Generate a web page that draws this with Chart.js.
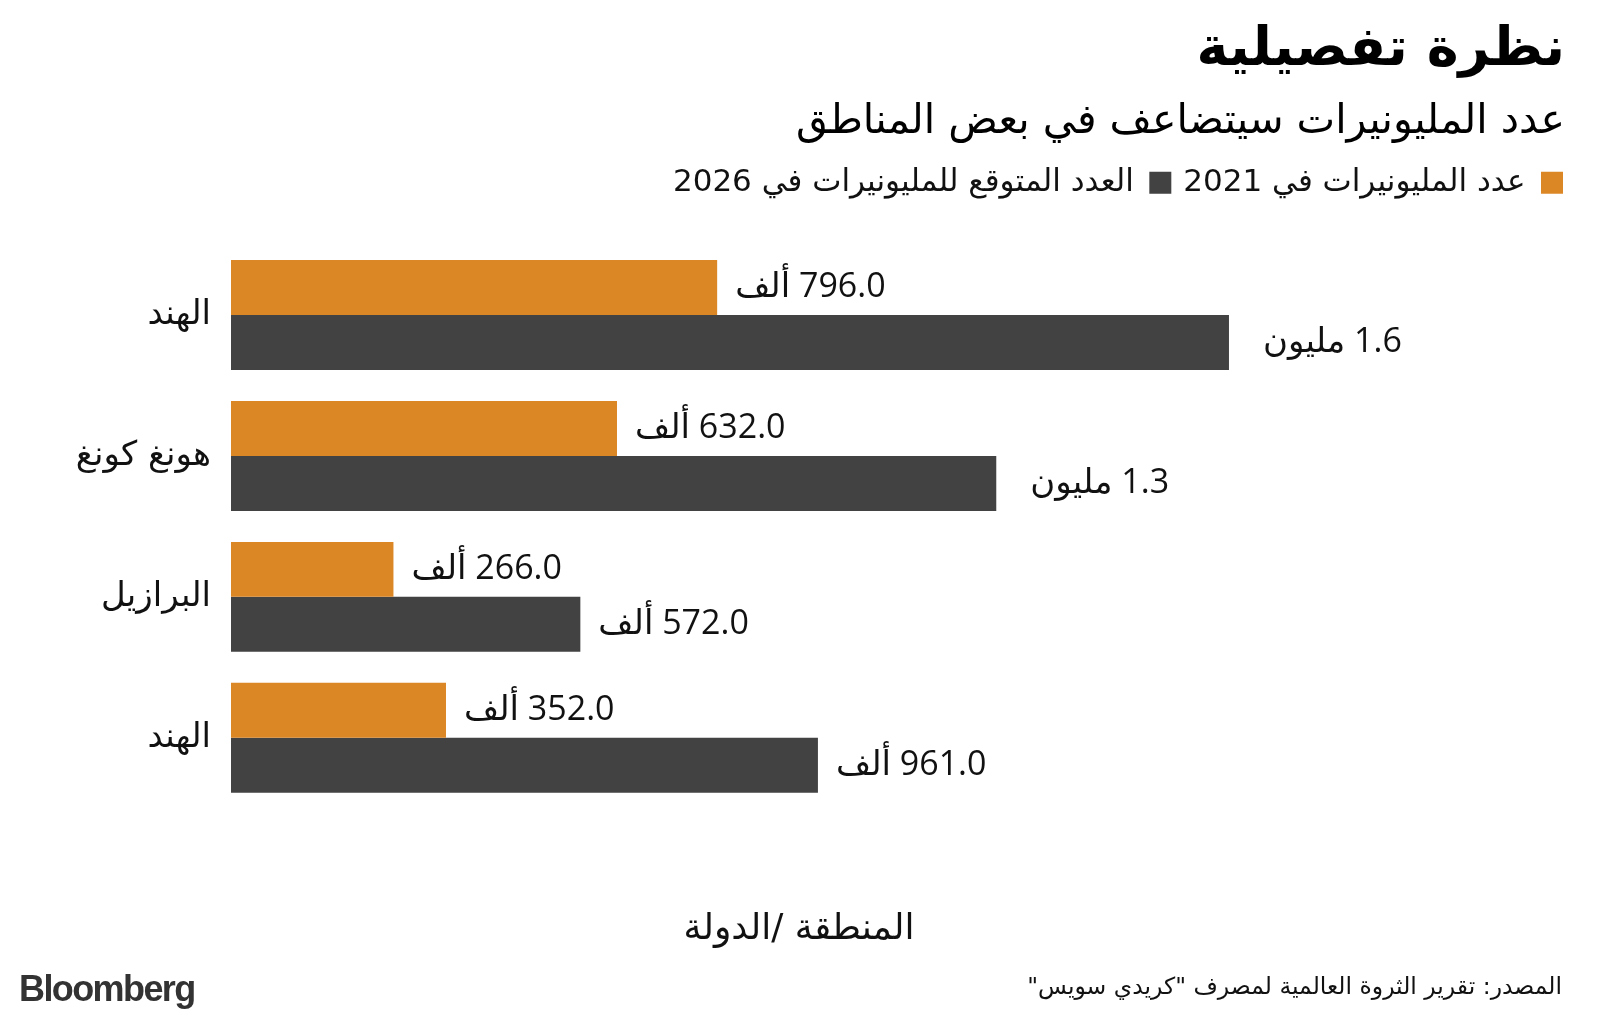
<!DOCTYPE html>
<html lang="ar">
<head>
<meta charset="utf-8">
<script src="https://cdn.jsdelivr.net/npm/chart.js@4.4.1/dist/chart.umd.min.js"></script>
<style>
  html, body { margin: 0; padding: 0; background: #fff; }
  body { width: 1600px; height: 1023px; position: relative; overflow: hidden; }
  #wrap { position: absolute; left: 0; top: 0; width: 1600px; height: 1023px; }
  #source { position: absolute; right: 38px; top: 970px; font-family: "DejaVu Sans", sans-serif; font-size: 23.5px; color: #111; direction: rtl; white-space: nowrap; line-height: 32px; }
  #logo { position: absolute; left: 19px; top: 969px; font-family: "Liberation Sans", Arial, sans-serif; font-weight: bold; font-size: 36px; letter-spacing: -1.6px; color: #333; line-height: 40px; }
</style>
</head>
<body>
<div id="wrap"><canvas id="c" width="1600" height="1023"></canvas></div>
<div id="source">المصدر: تقرير الثروة العالمية لمصرف "كريدي سويس"</div>
<div id="logo">Bloomberg</div>
<script>
const categories = ['الهند', 'هونغ كونغ', 'البرازيل', 'الهند'];
const millionaires2021 = [796, 632, 266, 352];
const millionaires2026 = [1634, 1253, 572, 961];
const seriesNames = ['عدد المليونيرات في 2021', 'العدد المتوقع للمليونيرات في 2026'];
const chartTitle = 'نظرة تفصيلية';
const chartSubtitle = 'عدد المليونيرات سيتضاعف في بعض المناطق';
const axisTitle = 'المنطقة /الدولة';
const unitThousand = 'ألف';
const unitMillion = 'مليون';

const ORANGE = '#DC8726';
const DARK = '#424242';
const AR_FONT = '"DejaVu Sans", sans-serif';
const NUM_FONT = '"Open Sans", "DejaVu Sans", sans-serif';

function formatValue(v) {
  if (v >= 1000) return (v / 1000).toFixed(1) + ' ' + unitMillion;
  return v.toFixed(1) + ' ' + unitThousand;
}

const valueLabels = {
  id: 'valueLabels',
  afterDatasetsDraw(chart) {
    const ctx = chart.ctx;
    ctx.save();
    ctx.font = '34px ' + NUM_FONT;
    ctx.fillStyle = '#111';
    ctx.textBaseline = 'middle';
    ctx.textAlign = 'left';
    ctx.direction = 'rtl';
    chart.data.datasets.forEach((ds, di) => {
      const meta = chart.getDatasetMeta(di);
      meta.data.forEach((bar, i) => {
        const v = ds.data[i];
        const off = v >= 1000 ? 34 : 18;
        ctx.fillText(formatValue(v), bar.x + off, bar.y);
      });
    });
    ctx.restore();
  }
};

const legendSpacing = {
  id: 'legendSpacing',
  beforeInit(chart) {
    const legend = chart.legend;
    if (!legend) return;
    const origFit = legend.fit;
    legend.fit = function () {
      origFit.call(this);
      this.height += 36.4;
    };
  },
  afterLayout(chart) {
    if (chart.legend) {
      chart.legend.left += 10;
      chart.legend.right += 10;
    }
  }
};

new Chart(document.getElementById('c'), {
  type: 'bar',
  data: {
    labels: categories,
    datasets: [
      { label: seriesNames[0], data: millionaires2021, backgroundColor: ORANGE, borderWidth: 0 },
      { label: seriesNames[1], data: millionaires2026, backgroundColor: DARK, borderWidth: 0 }
    ]
  },
  options: {
    indexAxis: 'y',
    responsive: false,
    animation: false,
    layout: { padding: { left: 0, right: 35, top: 0, bottom: 71.9 } },
    datasets: { bar: { categoryPercentage: 0.78, barPercentage: 1.0 } },
    scales: {
      x: {
        min: 0,
        max: 1860,
        grid: { display: false, drawTicks: false },
        border: { display: false },
        ticks: { display: false },
        title: {
          display: true,
          text: axisTitle,
          color: '#111',
          font: { family: AR_FONT, size: 36 },
          padding: { top: 99.7, bottom: 0 }
        }
      },
      y: {
        grid: { display: false, drawTicks: false },
        border: { display: false },
        ticks: { color: '#111', padding: 20, font: { family: AR_FONT, size: 34 } },
        afterFit(scale) { scale.width = 231; }
      },
      y2: {
        type: 'linear',
        position: 'right',
        display: true,
        grid: { display: false, drawTicks: false },
        border: { display: false },
        ticks: { display: false },
        afterFit(scale) { scale.width = 198; }
      }
    },
    plugins: {
      tooltip: { enabled: false },
      title: {
        display: true,
        text: chartTitle,
        align: 'end',
        color: '#000',
        font: { family: AR_FONT, size: 54, weight: 'bold' },
        padding: { top: 18.6, bottom: 0 }
      },
      subtitle: {
        display: true,
        text: chartSubtitle,
        align: 'end',
        color: '#000',
        font: { family: AR_FONT, size: 41 },
        padding: { top: 14.4, bottom: 8.2 }
      },
      legend: {
        display: true,
        position: 'top',
        align: 'start',
        rtl: true,
        textDirection: 'rtl',
        labels: {
          boxWidth: 22,
          boxHeight: 22,
          padding: 12,
          color: '#111',
          font: { family: AR_FONT, size: 31 }
        }
      }
    }
  },
  plugins: [valueLabels, legendSpacing]
});
</script>
</body>
</html>
